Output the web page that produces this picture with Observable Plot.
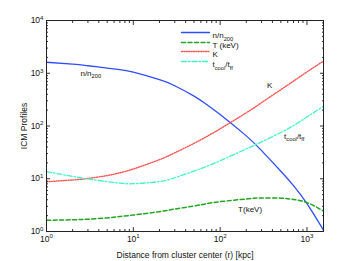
<!DOCTYPE html>
<html><head><meta charset="utf-8">
<script src="https://cdn.jsdelivr.net/npm/d3@7"></script>
<script src="https://cdn.jsdelivr.net/npm/@observablehq/plot@0.6"></script>
<style>body{margin:0;background:#fff;}</style>
</head><body><div id="chart"></div>
<script>
// radius r in kpc
const radius      = [1, 2, 3, 5, 7, 10, 20, 30, 50, 70, 100, 200, 300, 500, 700, 1000, 1550];
const density     = [1615, 1490, 1387, 1254, 1175, 1045, 754, 580, 368, 255, 165, 65, 34.2, 13.9, 7.4, 3.37, 1.06];
const temperature = [1.63, 1.67, 1.71, 1.81, 1.92, 2.05, 2.38, 2.66, 3.05, 3.37, 3.68, 4.14, 4.32, 4.29, 4.05, 3.53, 2.44];
const entropy     = [8.77, 9.49, 10.14, 11.5, 12.97, 15.3, 23.0, 31.0, 46.8, 63.1, 88.5, 178, 277, 488, 710, 1059, 1700];
const coolRatio   = [13.6, 11.1, 9.9, 8.8, 8.26, 8.05, 8.85, 10.45, 13.9, 17.2, 21.9, 36.8, 49.9, 75.4, 102, 148, 238];
const seriesNames = ["n/n_{200}", "T (keV)", "K", "t_{cool}/t_{ff}"];
const xMajorTicks = [1, 10, 100, 1000];
const yMajorTicks = [1, 10, 100, 1000, 10000];
const annotations = [
  {label: "n/n_{200}", r: 2.46, v: 1000},
  {label: "K", r: 347, v: 590},
  {label: "t_{cool}/t_{ff}", r: 545, v: 64.7},
  {label: "T(keV)", r: 161, v: 2.6}
];

const xDomain = [1, 1550];
const yDomain = [1, 10000];
const minorOf = (dom) => {
  const out = [];
  for (let e = Math.floor(Math.log10(dom[0])); e <= Math.ceil(Math.log10(dom[1])); e++)
    for (let k = 2; k <= 9; k++) { const v = k * 10 ** e; if (v > dom[0] && v < dom[1]) out.push(v); }
  return out;
};
const xMinorTicks = minorOf(xDomain);
const yMinorTicks = minorOf(yDomain);
const fmt = d => `10^{${Math.round(Math.log10(d))}}`;
const blank = () => "";

const styles = [
  {stroke: "#2f4dff", strokeWidth: 1.3},
  {stroke: "#1fa51f", strokeWidth: 1.5, strokeDasharray: "4,2.5"},
  {stroke: "#ff5050", strokeWidth: 1.4, strokeDasharray: "1,1.4"},
  {stroke: "#3df5c2", strokeWidth: 1.3, strokeDasharray: "5,2,1.5,2"}
];
const seriesValues = [density, temperature, entropy, coolRatio];

const lineShape = {draw(ctx, l) { ctx.moveTo(0, 0); ctx.lineTo(0, -l); }};
const legendRows = [12, 22, 31, 41];

const marks = [];
seriesValues.forEach((vals, s) => {
  marks.push(Plot.line(radius, {x: d => d, y: (d, i) => vals[i], curve: "natural", ...styles[s]}));
});
seriesNames.forEach((name, s) => {
  marks.push(Plot.vector([name], {frameAnchor: "top-left", dx: 135, dy: legendRows[s], length: 28, rotate: 90, anchor: "start", shape: lineShape, ...styles[s]}));
  marks.push(Plot.text([name], {frameAnchor: "top-left", dx: 166, dy: legendRows[s], text: d => d, textAnchor: "start", fontSize: 8, fill: "#111"}));
});
marks.push(Plot.text(annotations, {x: "r", y: "v", text: "label", textAnchor: "start", fontSize: 8, fill: "#111"}));

// axes: labels
marks.push(Plot.axisX(xMajorTicks, {anchor: "bottom", tickSize: 0, tickPadding: 4, tickFormat: fmt, fontSize: 8.5,
  label: "Distance from cluster center (r) [kpc]", labelAnchor: "center", labelArrow: "none", labelOffset: 26}));
marks.push(Plot.axisY(yMajorTicks, {anchor: "left", tickSize: 0, tickPadding: 3, tickFormat: fmt, fontSize: 8.5,
  label: "ICM Profiles", labelAnchor: "center", labelArrow: "none", labelOffset: 26}));
// inward ticks on all sides
for (const anchor of ["bottom", "top"]) {
  marks.push(Plot.axisX(xMajorTicks, {anchor, tickSize: -4, tickFormat: blank, label: null, stroke: "#333"}));
  marks.push(Plot.axisX(xMinorTicks, {anchor, tickSize: -2, tickFormat: blank, label: null, stroke: "#333"}));
}
for (const anchor of ["left", "right"]) {
  marks.push(Plot.axisY(yMajorTicks, {anchor, tickSize: -4, tickFormat: blank, label: null, stroke: "#333"}));
  marks.push(Plot.axisY(yMinorTicks, {anchor, tickSize: -2, tickFormat: blank, label: null, stroke: "#333"}));
}
marks.push(Plot.frame({stroke: "#222", strokeWidth: 1}));

const chart = Plot.plot({
  width: 357, height: 261,
  marginLeft: 46, marginRight: 34, marginTop: 20, marginBottom: 30,
  style: {fontFamily: "'Liberation Sans', Arial, sans-serif", fontSize: "8px", background: "white", color: "#111"},
  x: {type: "log", domain: xDomain},
  y: {type: "log", domain: yDomain},
  marks
});
document.getElementById("chart").append(chart);

// render ^{...} and _{...} as super/subscripts
chart.querySelectorAll("text").forEach(t => {
  const s = t.textContent;
  if (!/[_^]\{/.test(s)) return;
  const fs = parseFloat(getComputedStyle(t).fontSize) || 8;
  while (t.firstChild) t.removeChild(t.firstChild);
  let shift = 0, last = 0, m;
  const re = /([_^])\{([^}]*)\}/g;
  const add = (txt, target, size) => {
    const ts = document.createElementNS("http://www.w3.org/2000/svg", "tspan");
    ts.textContent = txt;
    const d = target - shift;
    if (d) ts.setAttribute("dy", d);
    shift = target;
    if (size) ts.setAttribute("font-size", size);
    t.appendChild(ts);
  };
  while ((m = re.exec(s))) {
    if (m.index > last) add(s.slice(last, m.index), 0);
    add(m[2], m[1] === "^" ? -0.4 * fs : 0.3 * fs, 0.72 * fs);
    last = re.lastIndex;
  }
  if (last < s.length) add(s.slice(last), 0);
});
</script>
</body></html>
